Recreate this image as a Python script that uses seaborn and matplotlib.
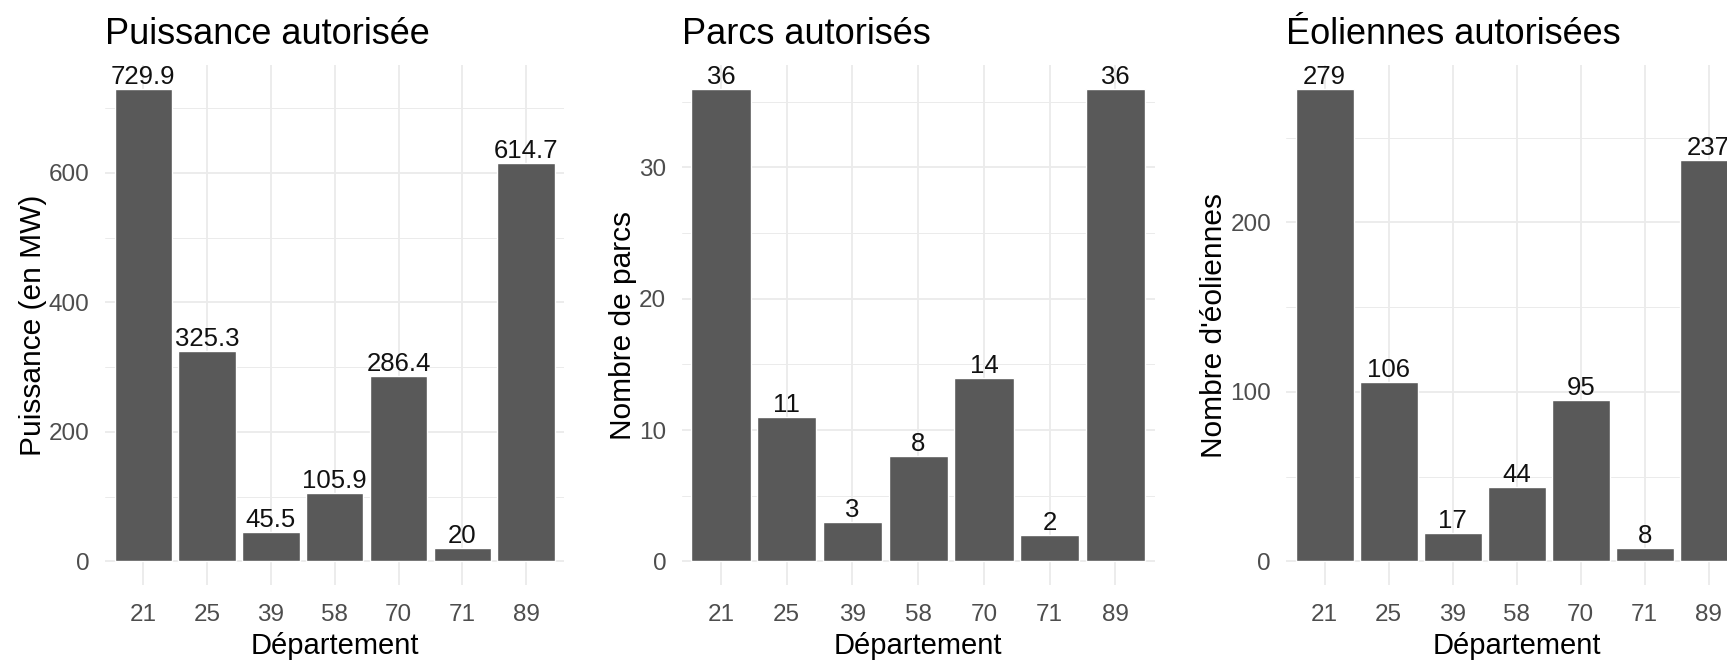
import matplotlib
matplotlib.use("Agg")
import matplotlib.pyplot as plt
import seaborn as sns
import pandas as pd
from matplotlib.ticker import MultipleLocator

departements = ["21", "25", "39", "58", "70", "71", "89"]
puissance = [729.9, 325.3, 45.5, 105.9, 286.4, 20, 614.7]
parcs = [36, 11, 3, 8, 14, 2, 36]
eoliennes = [279, 106, 17, 44, 95, 8, 237]

titles = ["Puissance autorisée", "Parcs autorisés", "Éoliennes autorisées"]
ylabels = ["Puissance (en MW)", "Nombre de parcs", "Nombre d'éoliennes"]
xlabel = "Département"

sns.set_theme(style="white")
plt.rcParams['font.family'] = ['Liberation Sans', 'DejaVu Sans']

W, H = 1727, 663
fig = plt.figure(figsize=(W / 100, H / 100), dpi=100)

lefts_px = [105, 681.5, 1286.3]
widths_px = [459.4, 473.4, 460.8]
top_px, bot_px = 65, 585
steps = [200, 10, 100]
series = [puissance, parcs, eoliennes]

for i in range(3):
    vals = series[i]
    ax = fig.add_axes([lefts_px[i] / W, 1 - bot_px / H, widths_px[i] / W, (bot_px - top_px) / H])
    df = pd.DataFrame({"dep": departements, "val": vals})
    sns.barplot(data=df, x="dep", y="val", color="#595959", saturation=1,
                width=0.9, ax=ax, zorder=3, errorbar=None)
    vmax = max(vals)
    ax.set_ylim(-0.05 * vmax, 1.05 * vmax)
    ax.set_xlim(-0.6, len(departements) - 0.4)
    ax.yaxis.set_major_locator(MultipleLocator(steps[i]))
    ax.yaxis.set_minor_locator(MultipleLocator(steps[i] / 2))
    ax.grid(True, which="major", color="#EBEBEB", lw=1.3, zorder=0)
    ax.grid(True, which="minor", axis="y", color="#EBEBEB", lw=0.7, zorder=0)
    ax.set_axisbelow(True)
    for s in ax.spines.values():
        s.set_visible(False)
    ax.tick_params(axis="both", which="both", length=0, labelsize=17.5,
                   labelcolor="#4D4D4D")
    ax.tick_params(axis="y", pad=11)
    ax.tick_params(axis="x", pad=13.5)
    ax.set_xlabel(xlabel, fontsize=21, color="black", labelpad=4.5)
    ax.set_ylabel(ylabels[i], fontsize=21.5, color="black", labelpad=1.5)
    ax.set_title(titles[i], fontsize=26, loc="left", color="black", pad=15)
    labels = [f"{v:g}" for v in vals]
    ax.bar_label(ax.containers[0], labels=labels, fontsize=18.5, color="#111111", padding=0)

fig.savefig("out.png", dpi=100, facecolor="white")
